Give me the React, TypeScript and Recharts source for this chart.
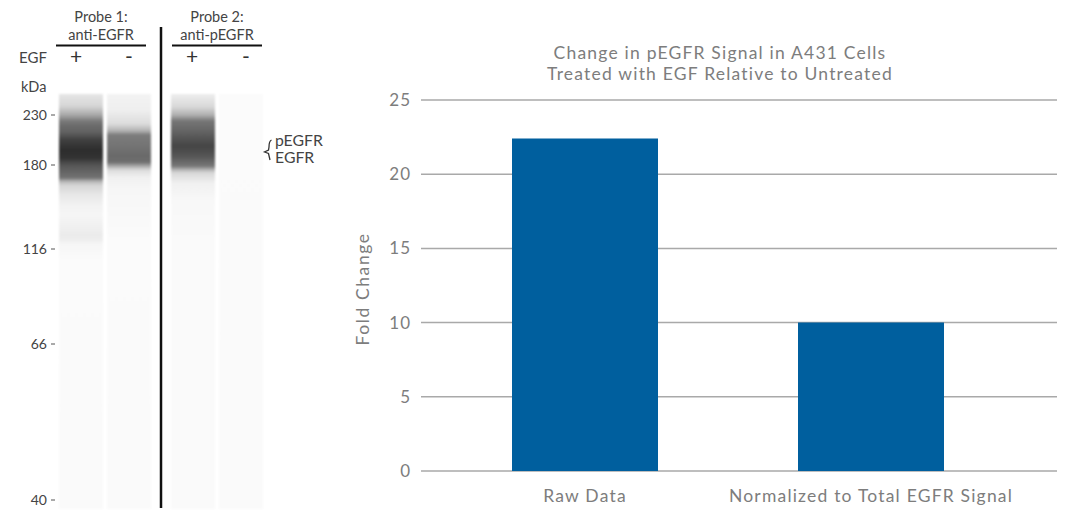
import React from 'react';
import { Bar, BarChart, CartesianGrid, Cell, XAxis, YAxis } from 'recharts';

// bar chart values
const conditions = ['Raw Data', 'Normalized to Total EGFR Signal'];
const foldChange = [22.4, 10];
const foldTicks = [0, 5, 10, 15, 20, 25];

// gel: distance travelled down the lane, and the marker found there
const gelLength = 415;
const markerDistance = [21, 71, 155, 250, 406];
const markerKda = ['230', '180', '116', '66', '40'];
const probe1Lanes = ['EGF+', 'EGF-'];
const probe2Lanes = ['EGF+', 'EGF-'];

// lane density: [distance, grey level]
const lane1Density: [number, string][] = [
  [0, '#e6e6e6'], [12, '#d6d6d6'], [21, '#a8a8a8'], [27, '#7a7a7a'], [32, '#6a6a6a'], [38, '#626262'],
  [46, '#404040'], [56, '#2d2d2d'], [64, '#333333'], [71, '#555555'], [80, '#6a6a6a'], [84, '#747474'],
  [87, '#b0b0b0'], [91, '#d4d4d4'], [101, '#e8e8e8'], [111, '#f2f2f2'], [121, '#f6f6f6'], [128, '#f2f2f2'],
  [136, '#eeeeee'], [141, '#ebebeb'], [146, '#eeeeee'], [150, '#f6f6f6'], [166, '#fbfbfb'], [415, '#fafafa'],
];
const lane2Density: [number, string][] = [
  [0, '#f3f3f3'], [16, '#efefef'], [30, '#dcdcdc'], [37, '#b0b0b0'], [41, '#7c7c7c'], [52, '#747474'],
  [62, '#6a6a6a'], [68, '#6e6e6e'], [72, '#a8a8a8'], [76, '#dcdcdc'], [83, '#f0f0f0'], [95, '#f6f6f6'],
  [146, '#fbfbfb'], [415, '#fafafa'],
];
const lane3Density: [number, string][] = [
  [0, '#eeeeee'], [13, '#d8d8d8'], [21, '#b0b0b0'], [27, '#767676'], [36, '#666666'], [52, '#454545'],
  [62, '#555555'], [72, '#777777'], [76, '#b8b8b8'], [79, '#d8d8d8'], [89, '#f0f0f0'], [106, '#f8f8f8'],
  [146, '#fafafa'], [415, '#fafafa'],
];
const lane4Density: [number, string][] = [[0, '#fbfbfb'], [415, '#fafafa']];

const sans = 'Lato, "Open Sans", sans-serif';
const GREY = '#7d7d7d';
const DARK = '#444444';

const LaneGradient = ({ id, stops }: { id: string; stops: [number, string][] }) => (
  <linearGradient id={id} x1="0" y1="0" x2="0" y2="1">
    {stops.map(([d, c]) => (
      <stop key={d} offset={d / gelLength} stopColor={c} />
    ))}
  </linearGradient>
);

const kdaLabel = (d: number) => markerKda[markerDistance.indexOf(d)];

const App = () => {
  const probe1 = probe1Lanes.map((lane) => ({ lane, length: gelLength }));
  const probe2 = probe2Lanes.map((lane) => ({ lane, length: gelLength }));
  const bars = conditions.map((name, i) => ({ name, value: foldChange[i] }));

  return (
    <div style={{ position: 'absolute', left: 0, top: 0, width: 1080, height: 529, background: '#fff', overflow: 'hidden' }}>
      {/* probe 1 lanes, carries the kDa axis */}
      <div style={{ position: 'absolute', left: 0, top: 0 }}>
        <BarChart width={157} height={529} data={probe1} margin={{ top: 94, right: 2, bottom: 20, left: 0 }} barSize={44}>
          <defs>
            <LaneGradient id="lane1" stops={lane1Density} />
            <LaneGradient id="lane2" stops={lane2Density} />
          </defs>
          <XAxis dataKey="lane" hide padding={{ left: 2, right: 2 }} />
          <YAxis
            type="number"
            width={55}
            reversed
            domain={[0, gelLength]}
            ticks={markerDistance}
            interval={0}
            tickFormatter={kdaLabel}
            axisLine={false}
            tickSize={4}
            tickMargin={4}
            tickLine={{ stroke: '#555555', strokeWidth: 1 }}
            tick={{ fill: DARK, fontSize: 14, fontFamily: sans }}
          />
          <Bar dataKey="length" isAnimationActive={false}>
            <Cell fill="url(#lane1)" style={{ filter: 'blur(0.9px)' }} />
            <Cell fill="url(#lane2)" style={{ filter: 'blur(0.9px)' }} />
          </Bar>
        </BarChart>
      </div>

      {/* probe 2 lanes */}
      <div style={{ position: 'absolute', left: 169, top: 0 }}>
        <BarChart width={96} height={529} data={probe2} margin={{ top: 94, right: 0, bottom: 20, left: 0 }} barSize={44}>
          <defs>
            <LaneGradient id="lane3" stops={lane3Density} />
            <LaneGradient id="lane4" stops={lane4Density} />
          </defs>
          <XAxis dataKey="lane" hide />
          <YAxis type="number" hide reversed domain={[0, gelLength]} />
          <Bar dataKey="length" isAnimationActive={false}>
            <Cell fill="url(#lane3)" style={{ filter: 'blur(0.9px)' }} />
            <Cell fill="url(#lane4)" style={{ filter: 'blur(0.9px)' }} />
          </Bar>
        </BarChart>
      </div>

      {/* gel annotations */}
      <svg width={340} height={529} style={{ position: 'absolute', left: 0, top: 0 }} fontFamily={sans} fill={DARK}>
        <g fontSize={14.5} textAnchor="middle">
          <text x={101} y={22}>Probe 1:</text>
          <text x={101} y={40}>anti-EGFR</text>
          <text x={217} y={22}>Probe 2:</text>
          <text x={217} y={40}>anti-pEGFR</text>
        </g>
        <line x1={56} x2={146} y1={45.5} y2={45.5} stroke="#111" strokeWidth={2} />
        <line x1={172} x2={262} y1={45.5} y2={45.5} stroke="#111" strokeWidth={2} />
        <line x1={161} x2={161} y1={27} y2={508} stroke="#111" strokeWidth={2.5} />
        <text x={19} y={63} fontSize={15}>EGF</text>
        <text x={21} y={92} fontSize={14.5}>kDa</text>
        <g fontSize={21} textAnchor="middle" fill="#333">
          <text x={76} y={64}>+</text>
          <text x={129} y={64}>-</text>
          <text x={192} y={64}>+</text>
          <text x={246} y={64}>-</text>
        </g>
        <path d="M271.5 140 Q269 141 269 147 L268.5 150 L264.5 152 L268.5 153.5 L270 160" fill="none" stroke="#333" strokeWidth={1.3} />
        <text x={275} y={146} fontSize={15.8}>pEGFR</text>
        <text x={275} y={163} fontSize={15.8}>EGFR</text>
      </svg>

      {/* fold change chart */}
      <div style={{ position: 'absolute', left: 340, top: 0 }}>
        <BarChart width={740} height={529} data={bars} margin={{ top: 100, right: 23, bottom: 28, left: 0 }} barSize={146}>
          <CartesianGrid vertical={false} stroke="#a9a9a9" strokeWidth={1.5} />
          <XAxis
            dataKey="name"
            padding={{ left: 21, right: 43 }}
            axisLine={false}
            tickLine={false}
            interval={0}
            tickMargin={13}
            tick={{ fill: GREY, fontSize: 17.5, fontFamily: sans, letterSpacing: 1.2 }}
          />
          <YAxis
            type="number"
            width={81}
            domain={[0, 25]}
            ticks={foldTicks}
            axisLine={false}
            tickLine={false}
            tickMargin={4}
            tick={{ fill: GREY, fontSize: 17, fontFamily: sans, letterSpacing: 1 }}
            label={{
              value: 'Fold Change',
              angle: -90,
              position: 'insideLeft',
              offset: 23,
              dy: 60,
              style: { fill: GREY, fontSize: 17.5, fontFamily: sans, letterSpacing: 1.6 },
            }}
          />
          <Bar dataKey="value" fill="#005f9e" isAnimationActive={false} />
          <text x={380} y={59} textAnchor="middle" fill={GREY} fontSize={17.5} fontFamily={sans} letterSpacing={1.2}>
            Change in pEGFR Signal in A431 Cells
          </text>
          <text x={380} y={80} textAnchor="middle" fill={GREY} fontSize={17.5} fontFamily={sans} letterSpacing={1.2}>
            Treated with EGF Relative to Untreated
          </text>
        </BarChart>
      </div>
    </div>
  );
};

export default App;
